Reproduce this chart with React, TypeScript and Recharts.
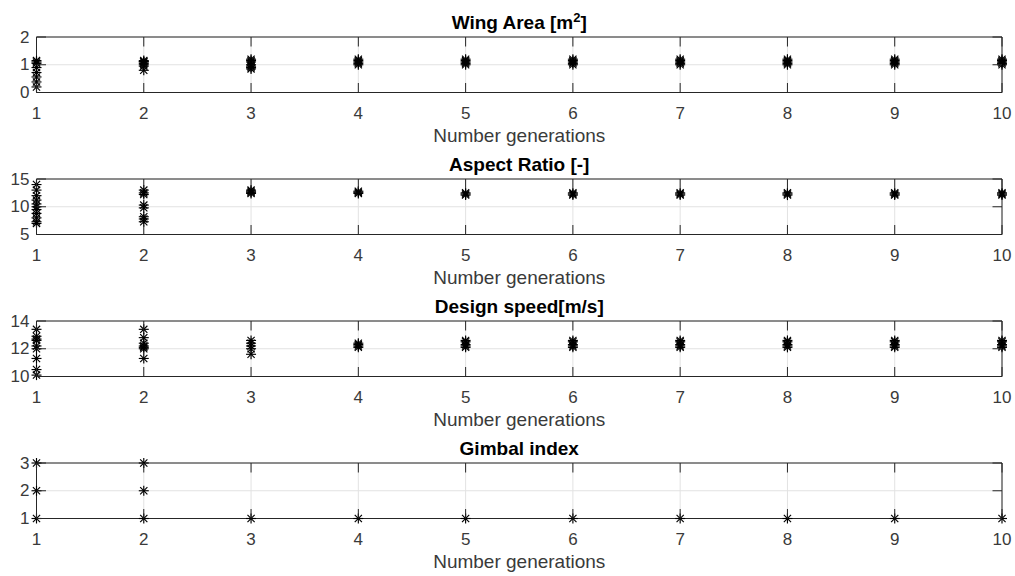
import React from 'react';
import { ScatterChart, Scatter, XAxis, YAxis, CartesianGrid, ReferenceArea } from 'recharts';

// x categories: one column of points per generation
const generations = [1, 2, 3, 4, 5, 6, 7, 8, 9, 10];

// population values per generation
const wingArea = [
  [1.15, 1.1, 1.05, 0.9, 0.72, 0.56, 0.38, 0.2],
  [1.15, 1.12, 1.1, 1.05, 1.0, 0.95, 0.8],
  [1.2, 1.15, 1.1, 1.0, 0.95, 0.9, 0.85],
  [1.2, 1.15, 1.1, 1.05, 1.0],
  [1.2, 1.15, 1.1, 1.05, 1.0],
  [1.2, 1.15, 1.1, 1.05, 1.0],
  [1.2, 1.15, 1.1, 1.05, 1.0],
  [1.2, 1.15, 1.1, 1.05, 1.0],
  [1.2, 1.15, 1.1, 1.05, 1.0],
  [1.2, 1.15, 1.1, 1.05, 1.0],
];

const aspectRatio = [
  [14, 13, 12, 11.2, 10.5, 10, 9.5, 8.8, 8, 7.3, 7],
  [13, 12.5, 12.2, 10.3, 9.8, 8.2, 7.8, 7.3],
  [13, 12.8, 12.6, 12.4],
  [12.8, 12.6, 12.4],
  [12.5, 12.3, 12.1],
  [12.5, 12.3, 12.1],
  [12.5, 12.3, 12.1],
  [12.5, 12.3, 12.1],
  [12.5, 12.3, 12.1],
  [12.5, 12.3, 12.1],
];

const designSpeed = [
  [13.4, 12.9, 12.7, 12.6, 12.2, 12.0, 11.3, 10.5, 10.1],
  [13.4, 12.8, 12.4, 12.2, 12.1, 12.0, 11.3],
  [12.6, 12.4, 12.2, 12.0, 11.6],
  [12.4, 12.3, 12.2, 12.1],
  [12.6, 12.5, 12.3, 12.2, 12.1],
  [12.6, 12.5, 12.3, 12.2, 12.1],
  [12.6, 12.5, 12.3, 12.2, 12.1],
  [12.6, 12.5, 12.3, 12.2, 12.1],
  [12.6, 12.5, 12.3, 12.2, 12.1],
  [12.6, 12.5, 12.3, 12.2, 12.1],
];

const gimbalIndex = [
  [1, 2, 3],
  [1, 2, 3],
  [1], [1], [1], [1], [1], [1], [1], [1],
];

const wingTicks = [0, 1, 2];
const aspectTicks = [5, 10, 15];
const speedTicks = [10, 12, 14];
const gimbalTicks = [1, 2, 3];

const xLabel = 'Number generations';

// layout (MATLAB subplot look)
const CHART_W = 1015;
const PLOT_LEFT = 36.5;
const PLOT_RIGHT = 1002;
const PLOT_W = PLOT_RIGHT - PLOT_LEFT;
const PLOT_H = 55.5;
const FIRST_TOP = 37.3;
const STEP = 142;
const PAD_TOP = 8;
const X_AXIS_H = 34;
const TICK_LEN = 9.5;
const FONT = '"Liberation Sans", Arial, Helvetica, sans-serif';
const AXIS_COLOR = '#262626';
const TEXT_COLOR = '#3a3a3a';

const toPoints = (values: number[][]) =>
  generations.flatMap((g, i) => values[i].map((v) => ({ gen: g, value: v })));

// MATLAB '*' marker
const Asterisk = (props: any) => {
  const { cx, cy } = props;
  if (cx == null || cy == null) return null;
  const r = 5;
  const d = r * 0.72;
  return (
    <g stroke="#000" strokeWidth={1.15} fill="none">
      <line x1={cx} y1={cy - r} x2={cx} y2={cy + r} />
      <line x1={cx - r} y1={cy} x2={cx + r} y2={cy} />
      <line x1={cx - d} y1={cy - d} x2={cx + d} y2={cy + d} />
      <line x1={cx - d} y1={cy + d} x2={cx + d} y2={cy - d} />
    </g>
  );
};

const XTick = (props: any) => {
  const { x, y, payload } = props;
  return (
    <g>
      <line x1={x} x2={x} y1={y} y2={y - TICK_LEN} stroke={AXIS_COLOR} />
      <line x1={x} x2={x} y1={y - PLOT_H} y2={y - PLOT_H + TICK_LEN} stroke={AXIS_COLOR} />
      <text
        x={x}
        y={y + 21}
        textAnchor="middle"
        dominantBaseline="central"
        fontFamily={FONT}
        fontSize={17}
        fill={TEXT_COLOR}
      >
        {payload.value}
      </text>
    </g>
  );
};

const YTick = (props: any) => {
  const { x, y, payload } = props;
  return (
    <g>
      <line x1={x} x2={x + TICK_LEN} y1={y} y2={y} stroke={AXIS_COLOR} />
      <line x1={x + PLOT_W} x2={x + PLOT_W - TICK_LEN} y1={y} y2={y} stroke={AXIS_COLOR} />
      <text
        x={x - 7}
        y={y}
        textAnchor="end"
        dominantBaseline="central"
        fontFamily={FONT}
        fontSize={17}
        fill={TEXT_COLOR}
      >
        {payload.value}
      </text>
    </g>
  );
};

interface PanelProps {
  index: number;
  title: React.ReactNode;
  values: number[][];
  ticks: number[];
}

const Panel: React.FC<PanelProps> = ({ index, title, values, ticks }) => {
  const plotTop = FIRST_TOP + STEP * index;
  const data = toPoints(values);
  const yMin = ticks[0];
  const yMax = ticks[ticks.length - 1];

  return (
    <>
      <div
        style={{
          position: 'absolute',
          left: PLOT_LEFT,
          width: PLOT_W,
          top: plotTop - 24,
          lineHeight: '19px',
          textAlign: 'center',
          fontFamily: FONT,
          fontWeight: 'bold',
          fontSize: 19,
          color: '#000',
        }}
      >
        {title}
      </div>
      <div style={{ position: 'absolute', left: 0, top: plotTop - PAD_TOP }}>
        <ScatterChart
          width={CHART_W}
          height={PAD_TOP + PLOT_H + X_AXIS_H}
          margin={{ top: PAD_TOP, right: CHART_W - PLOT_RIGHT, bottom: 0, left: 0 }}
        >
          <CartesianGrid stroke="#e2e2e2" strokeWidth={1} />
          <XAxis
            type="number"
            dataKey="gen"
            domain={[1, 10]}
            ticks={generations}
            interval={0}
            axisLine={false}
            tickLine={false}
            tickSize={0}
            tickMargin={0}
            height={X_AXIS_H}
            tick={(p: any) => <XTick {...p} />}
          />
          <YAxis
            type="number"
            dataKey="value"
            domain={[yMin, yMax]}
            ticks={ticks}
            interval={0}
            axisLine={false}
            tickLine={false}
            tickSize={0}
            tickMargin={0}
            width={PLOT_LEFT}
            tick={(p: any) => <YTick {...p} />}
          />
          <ReferenceArea
            x1={1}
            x2={10}
            y1={yMin}
            y2={yMax}
            fill="none"
            fillOpacity={0}
            stroke={AXIS_COLOR}
            strokeWidth={1}
          />
          <Scatter data={data} shape={Asterisk} isAnimationActive={false} />
        </ScatterChart>
      </div>
      <div
        style={{
          position: 'absolute',
          left: PLOT_LEFT,
          width: PLOT_W,
          top: plotTop + PLOT_H + 33,
          lineHeight: '19px',
          textAlign: 'center',
          fontFamily: FONT,
          fontSize: 19,
          color: TEXT_COLOR,
        }}
      >
        {xLabel}
      </div>
    </>
  );
};

const App: React.FC = () => {
  return (
    <div
      style={{
        position: 'relative',
        width: CHART_W,
        height: 576,
        background: '#fff',
        overflow: 'hidden',
      }}
    >
      <style>{'body{margin:0}'}</style>
      <Panel
        index={0}
        title={
          <span>
            Wing Area [m
            <sup style={{ fontSize: 13, verticalAlign: 'top', position: 'relative', top: -5 }}>2</sup>]
          </span>
        }
        values={wingArea}
        ticks={wingTicks}
      />
      <Panel index={1} title="Aspect Ratio [-]" values={aspectRatio} ticks={aspectTicks} />
      <Panel index={2} title="Design speed[m/s]" values={designSpeed} ticks={speedTicks} />
      <Panel index={3} title="Gimbal index" values={gimbalIndex} ticks={gimbalTicks} />
    </div>
  );
};

export default App;
